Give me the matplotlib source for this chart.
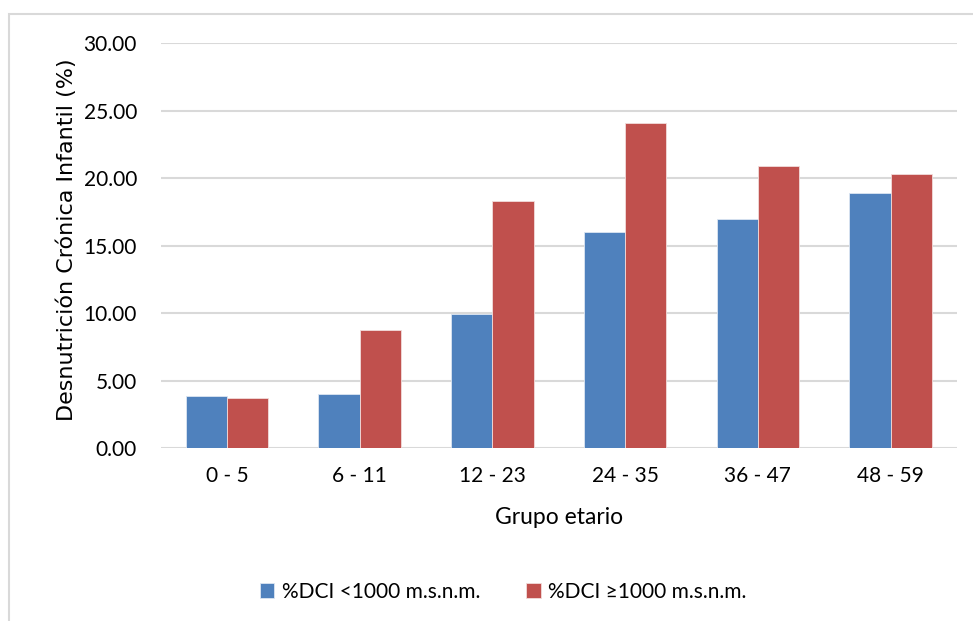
import matplotlib
matplotlib.use("Agg")
import matplotlib.pyplot as plt
from matplotlib.patches import Rectangle
import numpy as np

groups = ["0 - 5", "6 - 11", "12 - 23", "24 - 35", "36 - 47", "48 - 59"]
dci_below_1000 = [3.85, 4.00, 9.97, 16.02, 16.96, 18.89]
dci_above_1000 = [3.70, 8.74, 18.30, 24.10, 20.91, 20.32]
series_labels = ["%DCI <1000 m.s.n.m.", "%DCI ≥1000 m.s.n.m."]
yticks = [0, 5, 10, 15, 20, 25, 30]

blue = "#4F81BD"
red = "#C0504D"
grid = "#D9D9D9"
text_font = ["Lato", "DejaVu Sans"]

fig = plt.figure(figsize=(9.73, 6.21), dpi=100)
ax = fig.add_axes([0.165, 0.278, 0.8186, 0.6528])

x = np.arange(len(groups))
w = 0.311
ax.bar(x - w / 2, dci_below_1000, width=w, color=blue, edgecolor="#DCE6F2", linewidth=0.6,
       label=series_labels[0], zorder=3)
ax.bar(x + w / 2, dci_above_1000, width=w, color=red, edgecolor="#F2DCDB", linewidth=0.6,
       label=series_labels[1], zorder=3)

ax.set_xlim(-0.5, len(groups) - 0.5)
ax.set_ylim(0, 30)
ax.set_yticks(yticks)
ax.set_yticklabels([f"{v:.2f}" for v in yticks], family=text_font, fontsize=15, color="#000000")
ax.set_xticks(x)
ax.set_xticklabels(groups, family=text_font, fontsize=15, color="#000000")
ax.tick_params(length=0, pad=17, axis="y")
ax.tick_params(length=0, pad=13, axis="x")
ax.yaxis.grid(True, color=grid, linewidth=1.5, zorder=0)
for s in ax.spines.values():
    s.set_visible(False)

ax.set_xlabel("Grupo etario", family=text_font, fontsize=16.5, labelpad=15)
ax.set_ylabel("Desnutrición Crónica Infantil (%)", family="DejaVu Sans", fontsize=16, labelpad=7)
ax.yaxis.set_label_coords(-0.105, 0.515)

fig.legend(loc="center", bbox_to_anchor=(0.517, 0.047), ncol=2, frameon=False,
           prop={"family": text_font, "size": 15}, handlelength=0.7, handleheight=0.7,
           handletextpad=0.35, columnspacing=2.2)

fig.patches.append(Rectangle((9 / 973, -0.1), 1.2, 1 - 14 / 621 + 0.1, transform=fig.transFigure,
                             fill=False, edgecolor=grid, linewidth=1.5))

fig.savefig("out.png", dpi=100)
